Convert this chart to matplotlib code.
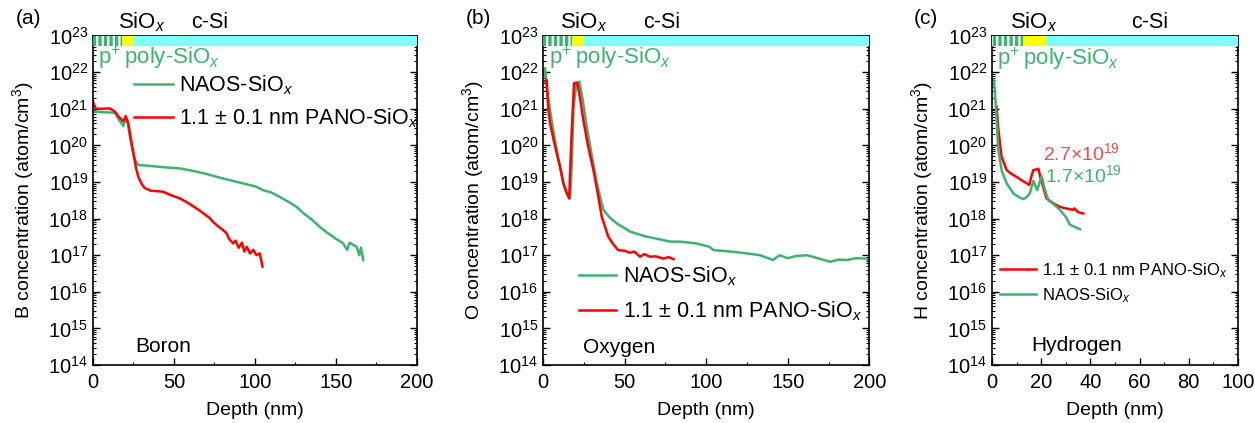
import numpy as np
import matplotlib
matplotlib.use('Agg')
from matplotlib import pyplot as plt
from matplotlib.ticker import LogLocator, NullFormatter, MultipleLocator
from matplotlib.patches import Rectangle
import matplotlib.transforms as mtransforms

plt.rcParams['font.family'] = ['Liberation Sans', 'DejaVu Sans']
plt.rcParams['mathtext.fontset'] = 'custom'
plt.rcParams['mathtext.rm'] = 'Liberation Sans'
plt.rcParams['mathtext.it'] = 'Liberation Sans:italic'
plt.rcParams['hatch.linewidth'] = 1.6

GREEN = '#3DB36F'
RED = '#FF0000'

# ---- (a) boron ----
b_naos_x = [0, 1.2, 5, 10.5, 13.6, 16, 18.7, 20.4, 21.5, 22.8, 24.5, 25.9, 28, 35, 45, 53.7, 62, 70,
            78, 84.6, 92, 101, 105, 110, 115, 120, 125.7, 130, 135, 140, 145, 148, 150, 152, 154.5,
            157, 158.5, 160, 162.8, 164.5, 165.5, 166.9]
b_naos_y = [8.9e20, 8.3e20, 8.1e20, 7.9e20, 7.6e20, 5.0e20, 3.4e20, 5.5e20, 4.0e20, 1.74e20, 7.1e19,
            4.0e19, 2.9e19, 2.75e19, 2.5e19, 2.35e19, 2.0e19, 1.66e19, 1.32e19, 1.12e19, 9.3e18,
            7.4e18, 6.0e18, 5.2e18, 4.0e18, 3.0e18, 2.1e18, 1.4e18, 9.5e17, 6.0e17, 4.0e17, 3.3e17,
            2.8e17, 2.5e17, 2.1e17, 1.4e17, 2.2e17, 2.0e17, 1.7e17, 1.0e17, 1.6e17, 7.4e16]
b_pano_x = [0, 0.8, 1.8, 5, 10.5, 13.6, 16, 18.7, 20.2, 21.8, 23.5, 25, 26.5, 28, 30, 32, 36, 40,
            43.4, 48, 53.7, 58, 64, 68, 72, 74, 77, 80, 82.5, 84, 86.6, 88, 90, 92, 93.5, 95, 97,
            99, 101, 103, 104.7]
b_pano_y = [1.58e21, 1.26e21, 1.0e21, 1.0e21, 1.02e21, 8.3e20, 6.0e20, 4.5e20, 6.3e20, 4.0e20,
            1.41e20, 6.0e19, 2.5e19, 1.38e19, 8.9e18, 6.8e18, 5.75e18, 5.6e18, 5.4e18, 4.4e18,
            3.55e18, 2.8e18, 1.9e18, 1.41e18, 1.05e18, 8.3e17, 6.3e17, 5.0e17, 4.0e17, 2.8e17,
            2.1e17, 2.5e17, 1.6e17, 2.2e17, 1.26e17, 1.7e17, 1.12e17, 1.4e17, 1.0e17, 1.12e17, 4.9e16]

# ---- (b) oxygen ----
o_naos_x = [0.3, 1.2, 2.5, 4.3, 6.5, 8.4, 10.5, 12.5, 14.5, 16.6, 17.6, 18.6, 19.6, 20.6, 22.3,
            24.5, 26.8, 30, 33, 37, 41, 45.2, 53.4, 63.6, 70, 78, 84, 94, 102, 104.5, 115, 125,
            133, 141, 145, 150, 155, 162, 170, 176, 181, 186, 192, 198, 200]
o_naos_y = [7.9e21, 1.29e22, 3.2e21, 9.3e20, 2.2e20, 7.4e19, 2.5e19, 9.1e18, 5.0e18, 3.55e18,
            3.2e19, 9.3e20, 2.5e21, 5.0e21, 5.5e21, 1.58e21, 3.2e20, 5.0e19, 9.1e18, 1.74e18,
            1.05e18, 7.4e17, 4.4e17, 3.2e17, 2.8e17, 2.35e17, 2.35e17, 2.1e17, 1.7e17, 1.38e17,
            1.26e17, 1.12e17, 1.0e17, 7.4e16, 1.0e17, 8.3e16, 9.5e16, 1.0e17, 7.9e16, 6.6e16,
            7.6e16, 7.4e16, 8.3e16, 8.1e16, 7.1e16]
o_pano_x = [1.5, 2.2, 3.2, 4.3, 6.5, 8.4, 10.5, 12.5, 14.5, 16.0, 17.5, 19.0, 21.0, 22.5, 24.7,
            27.5, 30.9, 33.5, 36, 40, 43, 46, 50, 53.4, 56, 59.5, 62, 65.6, 69, 73.8, 77, 80]
o_pano_y = [5.5e21, 6.2e21, 1.0e21, 4.0e20, 1.41e20, 6.0e19, 2.5e19, 9.1e18, 5.0e18, 3.55e18,
            2.0e20, 5.0e21, 5.1e21, 2.2e21, 4.9e20, 1.0e20, 2.1e19, 5.0e18, 1.12e18, 3.2e17,
            2.0e17, 1.38e17, 1.32e17, 1.17e17, 1.26e17, 9.1e16, 1.07e17, 9.1e16, 9.3e16, 8.1e16,
            8.9e16, 7.8e16]

# ---- (c) hydrogen ----
h_naos_x = [0.5, 1.1, 1.4, 2.6, 4, 6, 8.7, 10.5, 12.7, 14, 15.4, 16.8, 18.4, 20.2, 21.5, 22.9,
            25, 27.6, 30, 31.7, 33.5, 35.8]
h_naos_y = [6.3e21, 3.7e21, 1.74e21, 7.4e19, 2.0e19, 9.1e18, 4.9e18, 4.0e18, 3.4e18, 3.8e18,
            4.9e18, 1.07e19, 6.0e18, 1.45e19, 6.3e18, 3.2e18, 2.5e18, 1.74e18, 1.12e18, 6.8e17,
            6.0e17, 5.1e17]
h_pano_x = [1.9, 2.5, 3.9, 6, 8, 10, 12.5, 15.2, 16.0, 16.8, 18.9, 19.8, 22.2, 25, 27.6, 30, 33,
            33.5, 35, 37.1]
h_pano_y = [1.15e21, 3.2e20, 4.9e19, 2.1e19, 1.66e19, 1.38e19, 1.07e19, 8.3e18, 1.41e19, 2.1e19,
            2.3e19, 1.26e19, 3.55e18, 2.6e18, 2.1e18, 1.9e18, 1.74e18, 1.9e18, 1.5e18, 1.38e18]

lbl_naos = 'NAOS-SiO$_{\\mathit{x}}$'
lbl_pano = '1.1 $\\pm$ 0.1 nm PANO-SiO$_{\\mathit{x}}$'
lbl_poly = 'p$^{+\\!}$ poly-SiO$_{\\mathit{x}}$'

TICK_FS = 14.5
LAB_FS = 14


def style_axes(ax, xmax, xmajor, xminor):
    ax.set_yscale('log')
    ax.set_ylim(1e14, 1e23)
    ax.set_xlim(0, xmax)
    ax.yaxis.set_major_locator(LogLocator(base=10, numticks=20))
    ax.yaxis.set_minor_locator(LogLocator(base=10, subs=np.arange(2, 10), numticks=200))
    ax.yaxis.set_minor_formatter(NullFormatter())
    ax.xaxis.set_major_locator(MultipleLocator(xmajor))
    ax.xaxis.set_minor_locator(MultipleLocator(xminor))
    ax.tick_params(which='both', direction='in', right=True, top=False, labelsize=TICK_FS)
    ax.tick_params(axis='x', pad=6)
    ax.tick_params(which='major', length=5, width=1)
    ax.tick_params(which='minor', length=2.5, width=0.8)
    ax.set_xlabel('Depth (nm)', fontsize=LAB_FS, labelpad=7)
    for s in ax.spines.values():
        s.set_linewidth(1.2)


def layer_bar(ax, g_end, y_end, xmax, sio_x, csi_x):
    tr = mtransforms.blended_transform_factory(ax.transData, ax.transAxes)
    ax.add_patch(Rectangle((0, 0.968), g_end, 0.032, transform=tr, facecolor=GREEN,
                           edgecolor='white', hatch='|||', lw=0, clip_on=False, zorder=3))
    ax.add_patch(Rectangle((g_end, 0.968), y_end - g_end, 0.032, transform=tr,
                           facecolor='#FFFF00', lw=0, clip_on=False, zorder=3))
    ax.add_patch(Rectangle((y_end, 0.968), xmax - y_end, 0.032, transform=tr,
                           facecolor='#80FFFF', lw=0, clip_on=False, zorder=3))
    ax.text(sio_x, 1.022, 'SiO$_{\\mathit{x}}$', transform=tr, ha='center', va='baseline', fontsize=16)
    ax.text(csi_x, 1.022, 'c-Si', transform=tr, ha='center', va='baseline', fontsize=15.5)


fig = plt.figure(figsize=(12.55, 4.23), dpi=100)
ax1 = fig.add_axes([0.0741, 0.137, 0.258, 0.779])
ax2 = fig.add_axes([0.4327, 0.137, 0.26, 0.779])
ax3 = fig.add_axes([0.7904, 0.137, 0.196, 0.779])

# (a)
ax1.plot(b_naos_x, b_naos_y, color=GREEN, lw=1.8, label=lbl_naos)
ax1.plot(b_pano_x, b_pano_y, color=RED, lw=1.8, label=lbl_pano)
style_axes(ax1, 200, 50, 25)
layer_bar(ax1, 17.7, 24.9, 200, 30, 72)
ax1.set_ylabel('B concentration (atom/cm$^3$)', fontsize=LAB_FS, labelpad=9)
ax1.text(0.015, 0.915, lbl_poly, transform=ax1.transAxes, color=GREEN, fontsize=16, va='baseline')
ax1.legend(loc='upper left', bbox_to_anchor=(0.127, 0.886), frameon=False, fontsize=15.5,
           handlelength=1.8, handletextpad=0.3, labelspacing=0.45, borderpad=0, borderaxespad=0)
ax1.text(0.13, 0.055, 'Boron', transform=ax1.transAxes, fontsize=15, va='center')

# (b)
ax2.plot(o_naos_x, o_naos_y, color=GREEN, lw=1.8, label=lbl_naos)
ax2.plot(o_pano_x, o_pano_y, color=RED, lw=1.8, label=lbl_pano)
style_axes(ax2, 200, 50, 25)
layer_bar(ax2, 17.8, 24.7, 200, 25, 73)
ax2.set_ylabel('O concentration (atom/cm$^3$)', fontsize=LAB_FS, labelpad=9)
ax2.text(0.018, 0.915, lbl_poly, transform=ax2.transAxes, color=GREEN, fontsize=16, va='baseline')
ax2.legend(loc='upper left', bbox_to_anchor=(0.11, 0.304), frameon=False, fontsize=15.5,
           handlelength=1.7, handletextpad=0.35, labelspacing=0.5, borderpad=0, borderaxespad=0)
ax2.text(0.123, 0.052, 'Oxygen', transform=ax2.transAxes, fontsize=15, va='center')

# (c)
ax3.plot(h_pano_x, h_pano_y, color=RED, lw=1.8, label=lbl_pano)
ax3.plot(h_naos_x, h_naos_y, color=GREEN, lw=1.8, label=lbl_naos)
style_axes(ax3, 100, 20, 10)
layer_bar(ax3, 12.7, 22, 100, 16.8, 64)
ax3.set_ylabel('H concentration (atom/cm$^3$)', fontsize=LAB_FS, labelpad=9)
ax3.text(0.02, 0.912, lbl_poly, transform=ax3.transAxes, color=GREEN, fontsize=16, va='baseline')
ax3.legend(loc='upper left', bbox_to_anchor=(0.0325, 0.315), frameon=False, fontsize=12,
           handlelength=2.15, handletextpad=0.4, labelspacing=0.36, borderpad=0, borderaxespad=0)
ax3.text(0.161, 0.058, 'Hydrogen', transform=ax3.transAxes, fontsize=15, va='center')
ax3.text(20.7, 10**19.6, '2.7×10$^{19}$', color='#F24B4B', fontsize=14, va='baseline')
ax3.text(21.5, 10**19.01, '1.7×10$^{19}$', color=GREEN, fontsize=14, va='baseline')

fig.text(16 / 1255, 1 - 18 / 423, '(a)', fontsize=15, va='center')
fig.text(466 / 1255, 1 - 18 / 423, '(b)', fontsize=15, va='center')
fig.text(914 / 1255, 1 - 18 / 423, '(c)', fontsize=15, va='center')

fig.savefig('out.png', dpi=100)
